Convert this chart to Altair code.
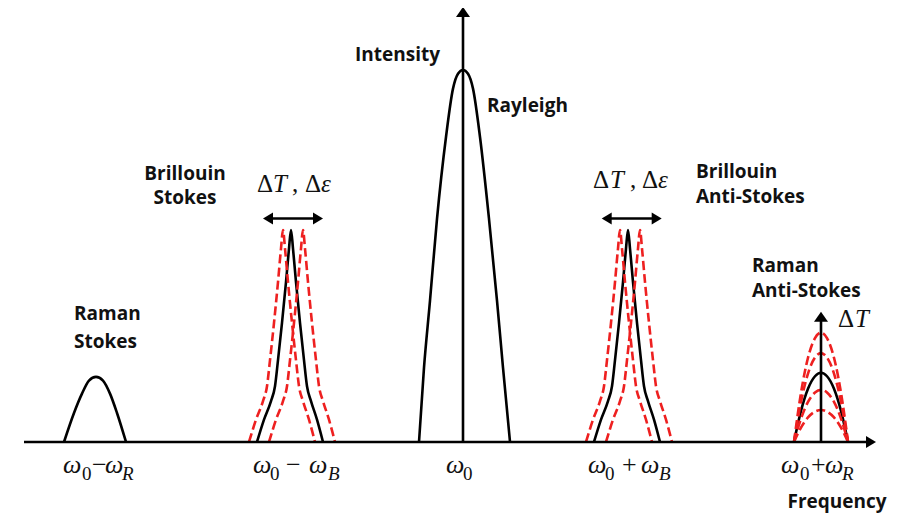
import altair as alt
import pandas as pd

# ---------------- data (frequency offset from w0, intensity with Rayleigh = 100) -------------
PEAK_CENTERS = {"Raman Stokes": -367, "Brillouin Stokes": -172, "Rayleigh": 0,
                "Brillouin Anti-Stokes": 165, "Raman Anti-Stokes": 358}

RAMAN_S_DX = [-32, -22, -14, -7, 0, 7, 14, 21, 30]
RAMAN_S_I = [0, 7.8, 13, 16.5, 17.5, 16.5, 13, 7.8, 0]

RAYLEIGH_DX = [-44, -39, -33, -26, -17, -10, -5, 0, 5, 10, 17, 26, 34, 40, 47]
RAYLEIGH_I = [0, 20, 38, 60, 82, 95, 99, 100, 99, 95, 82, 60, 38, 20, 0]

BRILLOUIN_DX = [-34, -27, -20, -16, -13, -9, -5, -2, 0, 2, 5, 9, 13, 16, 20, 26, 32]
BRILLOUIN_I = [0, 6, 11, 15, 22, 32, 43, 52, 57, 52, 43, 32, 22, 15, 11, 6, 0]
BRILLOUIN_SHIFTS = [-8, 12]          # red dashed peaks shifted by dT, de

RAMAN_AS_DX = [-27, -20, -13, -6, 0, 6, 13, 20, 27]
RAMAN_AS_SHAPE = [0, 0.45, 0.77, 0.95, 1, 0.95, 0.77, 0.45, 0]
RAMAN_AS_HEIGHT = 18.6
RAMAN_AS_RED_HEIGHTS = [29.4, 23.9, 14.0, 8.6]

AXIS_X = [-439, 408]
AXIS_Y_TOP = 115.6
RAMAN_ARROW_TOP = 33.7
SHIFT_ARROWS = [(-195, -145), (143.7, 193.7)]
SHIFT_ARROW_Y = 60.1

# ---------------- build tables -------------------------------------------------------------
rows = []
def add_curve(cid, color, xs, ys, center):
    for i, (dx, v) in enumerate(zip(xs, ys)):
        rows.append({"curve": cid, "color": color, "idx": i, "x": center + dx, "y": v})

add_curve("rs", "black", RAMAN_S_DX, RAMAN_S_I, PEAK_CENTERS["Raman Stokes"])
add_curve("ray", "black", RAYLEIGH_DX, RAYLEIGH_I, PEAK_CENTERS["Rayleigh"])
for name in ["Brillouin Stokes", "Brillouin Anti-Stokes"]:
    c = PEAK_CENTERS[name]
    add_curve(name, "black", BRILLOUIN_DX, BRILLOUIN_I, c)
    for s in BRILLOUIN_SHIFTS:
        add_curve(f"{name}{s}", "red", BRILLOUIN_DX, BRILLOUIN_I, c + s)
c = PEAK_CENTERS["Raman Anti-Stokes"]
add_curve("ras", "black", RAMAN_AS_DX, [f * RAMAN_AS_HEIGHT for f in RAMAN_AS_SHAPE], c)
for k, h in enumerate(RAMAN_AS_RED_HEIGHTS):
    add_curve(f"ras{k}", "red", RAMAN_AS_DX, [f * h for f in RAMAN_AS_SHAPE], c)
curves = pd.DataFrame(rows)

segs = pd.DataFrame([
    {"x": AXIS_X[0], "x2": AXIS_X[1], "y": 0, "y2": 0},
    {"x": 0, "x2": 0, "y": 0, "y2": AXIS_Y_TOP},
    {"x": c, "x2": c, "y": 0, "y2": RAMAN_ARROW_TOP},
] + [{"x": a, "x2": b, "y": SHIFT_ARROW_Y, "y2": SHIFT_ARROW_Y} for a, b in SHIFT_ARROWS])

heads = pd.DataFrame([
    {"x": 0, "y": AXIS_Y_TOP, "dir": "up"},
    {"x": c, "y": RAMAN_ARROW_TOP, "dir": "up"},
    {"x": AXIS_X[1], "y": 0, "dir": "right"},
] + [{"x": a, "y": SHIFT_ARROW_Y, "dir": "left"} for a, b in SHIFT_ARROWS]
  + [{"x": b, "y": SHIFT_ARROW_Y, "dir": "right"} for a, b in SHIFT_ARROWS])

labels_center = pd.DataFrame([
    {"t": "Intensity", "x": -65.5, "y": 102.5},
    {"t": "Brillouin", "x": -278, "y": 70.4},
    {"t": "Stokes", "x": -278, "y": 64.1},
    {"t": "Frequency", "x": 374, "y": -17.7},
])
labels_left = pd.DataFrame([
    {"t": "Rayleigh", "x": 24, "y": 88.8},
    {"t": "Brillouin", "x": 233, "y": 70.9},
    {"t": "Anti-Stokes", "x": 233, "y": 64.2},
    {"t": "Raman", "x": 289, "y": 45.8},
    {"t": "Anti-Stokes", "x": 289, "y": 39.1},
    {"t": "Raman", "x": -389, "y": 32.8},
    {"t": "Stokes", "x": -389, "y": 25.2},
])

MAIN_Y, SUB_Y = -8.33, -10.22
M, S, D = 26, 19, 25
math = pd.DataFrame([
    # tick labels
    ("ω", -400, MAIN_Y, M, True), ("0", -381, SUB_Y, S, False), ("−", -371, MAIN_Y, M, False),
    ("ω", -358, MAIN_Y, M, True), ("R", -341, SUB_Y, S, True),
    ("ω", -210, MAIN_Y, M, True), ("0", -193, SUB_Y, S, False), ("−", -177, MAIN_Y, M, False),
    ("ω", -154, MAIN_Y, M, True), ("B", -135, SUB_Y, S, True),
    ("ω", -17, MAIN_Y, M, True), ("0", 0, SUB_Y, S, False),
    ("ω", 125, MAIN_Y, M, True), ("0", 142, SUB_Y, S, False), ("+", 159, MAIN_Y, M, False),
    ("ω", 178, MAIN_Y, M, True), ("B", 196, SUB_Y, S, True),
    ("ω", 318, MAIN_Y, M, True), ("0", 337, SUB_Y, S, False), ("+", 348, MAIN_Y, M, False),
    ("ω", 362, MAIN_Y, M, True), ("R", 379, SUB_Y, S, True),
    # shift annotations
    ("Δ", -206, 67.3, D, False), ("T", -190, 67.3, D, True), (",", -171, 67.3, D, False),
    ("Δ", -158, 67.3, D, False), ("ε", -142, 67.3, D, True),
    ("Δ", 130, 68.2, D, False), ("T", 147, 68.2, D, True), (",", 167, 68.2, D, False),
    ("Δ", 179, 68.2, D, False), ("ε", 195, 68.2, D, True),
    ("Δ", 375, 30.8, D, False), ("T", 392, 30.8, D, True),
], columns=["t", "x", "y", "fs", "it"])

# ---------------- chart ----------------------------------------------------------------------
XS = alt.Scale(domain=[-455, 434], nice=False, zero=False)
YS = alt.Scale(domain=[-19.09, 116.67], nice=False, zero=False)
X = alt.X("x:Q", scale=XS, axis=None)
Y = alt.Y("y:Q", scale=YS, axis=None)

black_curves = alt.Chart(curves[curves.color == "black"]).mark_line(
    color="black", strokeWidth=2.6, interpolate="monotone"
).encode(x=X, y=Y, detail="curve:N", order="idx:Q")

red_curves = alt.Chart(curves[curves.color == "red"]).mark_line(
    color="#ee2020", strokeWidth=2.6, strokeDash=[9, 4], interpolate="monotone"
).encode(x=X, y=Y, detail="curve:N", order="idx:Q")

rules = alt.Chart(segs).mark_rule(color="black", strokeWidth=2.6).encode(
    x=X, x2="x2:Q", y=Y, y2="y2:Q")

SHAPES = {"up": "M0,-1L1.4,1L-1.4,1Z", "right": "M1,0L-1,-1.2L-1,1.2Z",
          "left": "M-1,0L1,-1.2L1,1.2Z"}
arrowheads = alt.Chart(heads).mark_point(filled=True, color="black", opacity=1, size=100,
                                         strokeWidth=0).encode(
    x=X, y=Y,
    shape=alt.Shape("dir:N", scale=alt.Scale(domain=list(SHAPES.keys()),
                                             range=list(SHAPES.values())), legend=None))

txt_c = alt.Chart(labels_center).mark_text(font="Open Sans", fontWeight="bold", fontSize=19,
                                           align="center", baseline="alphabetic",
                                           color="#111111").encode(x=X, y=Y, text="t:N")
txt_l = alt.Chart(labels_left).mark_text(font="Open Sans", fontWeight="bold", fontSize=19,
                                         align="left", baseline="alphabetic",
                                         color="#111111").encode(x=X, y=Y, text="t:N")

math_it = alt.Chart(math[math.it]).mark_text(font="Liberation Serif", fontStyle="italic",
                                             align="left", baseline="alphabetic",
                                             color="#111111").encode(
    x=X, y=Y, text="t:N", size=alt.Size("fs:Q", scale=None))
math_up = alt.Chart(math[~math.it]).mark_text(font="Liberation Serif",
                                              align="left", baseline="alphabetic",
                                              color="#111111").encode(
    x=X, y=Y, text="t:N", size=alt.Size("fs:Q", scale=None))

chart = alt.layer(black_curves, red_curves, rules, arrowheads, txt_c, txt_l, math_it, math_up
                  ).properties(width=889, height=505, padding=0, autosize="none",
                               background="white").configure_view(stroke=None)

chart.save("out.html", embed_options={"renderer": "svg", "actions": False})
